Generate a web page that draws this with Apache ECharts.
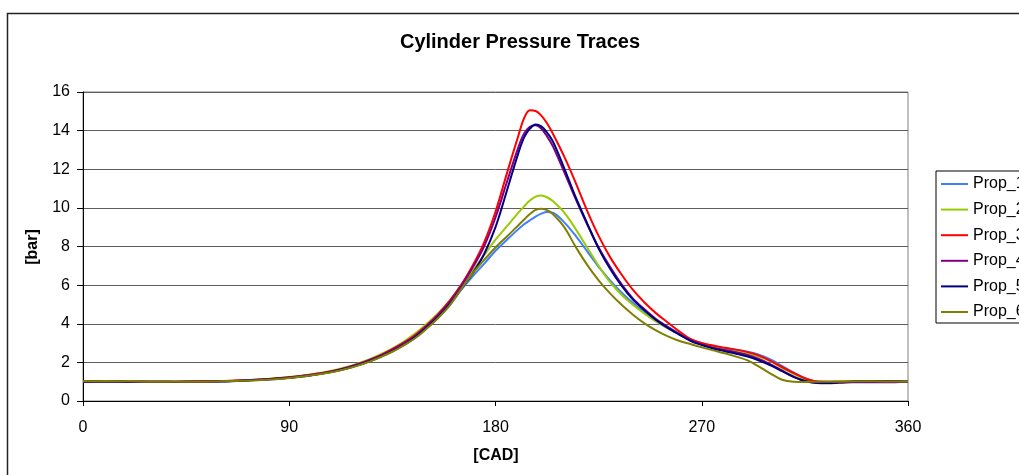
<!DOCTYPE html>
<html>
<head>
<meta charset="utf-8">
<script src="https://cdn.jsdelivr.net/npm/echarts@6/dist/echarts.min.js"></script>
<style>
html,body{margin:0;padding:0;background:#fff;}
#chart{width:1019px;height:475px;}
</style>
</head>
<body>
<div id="chart"></div>
<script>
const cad = [0,10,20,30,40,50,60,70,80,90,100,
  105,110,115,120,125,130,135,140,145,150,155,160,165,170,175,180,185,190,
  192.5,195,197.5,200,202.5,
  205,210,215,220,225,230,235,240,245,250,255,260,265,270,275,280,285,290,295,300,
  305,310,315,320,325,330,340,350,360];

const seriesNames = ['Prop_1','Prop_2','Prop_3','Prop_4','Prop_5','Prop_6'];
const seriesColors = ['#3F7FFF','#99CC00','#FF0000','#800080','#000080','#808000'];

const prop1 = [1.0,1.02,1.0,0.99,1.0,1.01,1.02,1.06,1.11,1.21,1.35,
  1.44,1.55,1.69,1.86,2.07,2.3,2.58,2.9,3.28,3.78,4.32,4.95,5.75,6.45,7.1,7.78,8.35,8.9,
  9.15,9.36,9.55,9.7,9.78,
  9.75,9.25,8.55,7.75,6.95,6.25,5.62,5.07,4.6,4.2,3.82,3.5,3.2,2.98,2.82,2.72,2.65,2.55,2.4,2.15,
  1.82,1.48,1.18,1.0,0.98,1.0,1.02,1.03,1.0];
const prop2 = [1.03,1.04,1.0,1.0,1.01,1.0,1.03,1.08,1.14,1.24,1.39,
  1.49,1.6,1.76,1.95,2.17,2.43,2.73,3.08,3.5,4.0,4.55,5.2,6.0,6.75,7.55,8.35,9.05,9.75,
  10.08,10.38,10.58,10.64,10.55,
  10.35,9.75,8.9,7.95,7.0,6.15,5.5,4.98,4.52,4.12,3.77,3.46,3.18,2.95,2.78,2.66,2.56,2.45,2.3,2.05,
  1.72,1.4,1.12,1.0,1.0,1.02,1.04,1.02,1.0];
const prop3 = [1.01,1.02,1.01,1.0,1.0,1.02,1.03,1.07,1.13,1.23,1.37,
  1.47,1.58,1.73,1.91,2.13,2.38,2.68,3.02,3.42,3.92,4.5,5.18,6.0,7.0,8.2,9.8,11.8,13.75,
  14.65,15.05,15.02,14.78,14.38,
  13.85,12.65,11.3,9.85,8.55,7.45,6.55,5.75,5.1,4.55,4.08,3.62,3.22,3.0,2.87,2.76,2.66,2.53,2.35,2.08,
  1.76,1.46,1.18,1.02,1.0,1.0,1.03,1.04,1.0];
const prop4 = [1.0,1.0,0.99,1.0,1.0,1.0,1.02,1.06,1.12,1.22,1.36,
  1.45,1.57,1.72,1.9,2.11,2.36,2.65,2.98,3.38,3.88,4.45,5.12,5.95,6.9,8.0,9.5,11.35,13.15,
  13.85,14.2,14.28,14.1,13.7,
  13.2,11.85,10.45,9.15,7.95,6.95,6.05,5.3,4.75,4.25,3.85,3.48,3.15,2.92,2.76,2.64,2.52,2.38,2.18,1.9,
  1.58,1.27,1.03,0.93,0.92,0.94,0.98,0.97,1.0];
const prop5 = [1.0,1.01,1.0,1.0,0.99,1.0,1.01,1.05,1.11,1.2,1.34,
  1.43,1.54,1.68,1.86,2.06,2.3,2.58,2.9,3.3,3.8,4.35,5.0,5.8,6.6,7.6,9.0,10.9,12.85,
  13.65,14.1,14.32,14.22,13.9,
  13.45,12.05,10.55,9.2,7.9,6.85,5.97,5.25,4.7,4.2,3.8,3.45,3.12,2.9,2.72,2.58,2.45,2.3,2.1,1.85,
  1.55,1.25,1.04,0.95,0.93,0.97,1.02,1.02,1.0];
const prop6 = [1.02,1.03,1.02,1.0,1.0,1.0,1.02,1.05,1.1,1.19,1.33,
  1.42,1.53,1.67,1.84,2.04,2.28,2.55,2.88,3.26,3.75,4.3,4.95,5.8,6.6,7.3,7.95,8.52,9.1,
  9.4,9.68,9.9,9.96,9.88,
  9.68,9.0,7.98,7.05,6.25,5.57,4.98,4.47,4.02,3.66,3.36,3.12,2.95,2.78,2.62,2.47,2.3,2.1,1.78,1.42,
  1.1,1.0,0.99,1.0,1.0,1.0,1.02,1.01,1.0];

const seriesValues = [prop1, prop2, prop3, prop4, prop5, prop6];

const titleText = 'Cylinder Pressure Traces';
const xName = '[CAD]';
const yName = '[bar]';

const FONT = "'Liberation Sans', Arial, sans-serif";

const chart = echarts.init(document.getElementById('chart'), null, {renderer: 'canvas'});

const series = seriesNames.map((name, i) => ({
  name: name,
  type: 'line',
  data: cad.map((c, j) => [c, seriesValues[i][j]]),
  smooth: 0.35,
  showSymbol: false,
  symbol: 'none',
  lineStyle: {color: seriesColors[i], width: 2},
  itemStyle: {color: seriesColors[i]},
  emphasis: {disabled: true}
}));

chart.setOption({
  animation: false,
  backgroundColor: '#ffffff',
  grid: {
    left: 83, top: 92, width: 825, height: 309,
    show: true, borderColor: '#808080', borderWidth: 1, backgroundColor: 'transparent'
  },
  xAxis: {
    type: 'value', min: 0, max: 360, interval: 90,
    axisLine: {show: true, onZero: false, lineStyle: {color: '#000', width: 1}},
    axisTick: {show: true, inside: false, length: 5, lineStyle: {color: '#000'}},
    axisLabel: {color: '#000', fontSize: 16, fontFamily: FONT, margin: 19},
    splitLine: {show: false}
  },
  yAxis: {
    type: 'value', min: 0, max: 16, interval: 2,
    axisLine: {show: true, onZero: false, lineStyle: {color: '#000', width: 1}},
    axisTick: {show: true, inside: false, length: 6, lineStyle: {color: '#000'}},
    axisLabel: {color: '#000', fontSize: 16, fontFamily: FONT, margin: 13},
    splitLine: {show: true, lineStyle: {color: '#5e5e5e', width: 1}}
  },
  legend: {
    orient: 'vertical',
    left: 936, top: 171,
    padding: [5, 5, 3, 5],
    itemWidth: 27, itemHeight: 2, itemGap: 9.6,
    icon: 'rect',
    borderColor: '#000', borderWidth: 1, backgroundColor: '#fff',
    textStyle: {color: '#000', fontSize: 16, fontFamily: FONT, lineHeight: 16},
    data: seriesNames
  },
  graphic: [
    {type: 'rect', silent: true, z: -10,
     shape: {x: 7.5, y: 13.5, width: 1100, height: 600},
     style: {fill: 'none', stroke: '#222', lineWidth: 1.5}},
    {type: 'text', silent: true, x: 520, y: 42,
     style: {text: titleText, fill: '#000', font: "bold 20px 'Liberation Sans', Arial, sans-serif",
             textAlign: 'center', textVerticalAlign: 'middle'}},
    {type: 'text', silent: true, x: 496, y: 456,
     style: {text: xName, fill: '#000', font: "bold 16px 'Liberation Sans', Arial, sans-serif",
             textAlign: 'center', textVerticalAlign: 'middle'}},
    {type: 'text', silent: true, x: 33, y: 247, rotation: Math.PI / 2,
     style: {text: yName, fill: '#000', font: "bold 16px 'Liberation Sans', Arial, sans-serif",
             textAlign: 'center', textVerticalAlign: 'middle'}}
  ],
  series: series
});
</script>
</body>
</html>
